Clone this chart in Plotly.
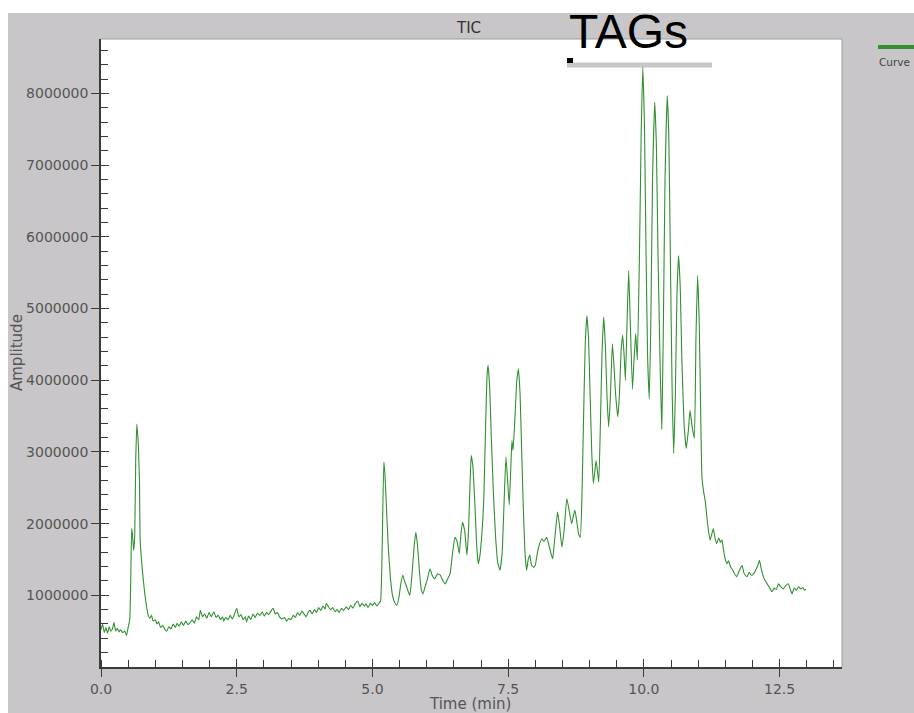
import plotly.graph_objects as go

# ---------------- data ----------------
time_min = [
    0.00, 0.03, 0.06, 0.09, 0.12, 0.15, 0.18, 0.21, 0.24, 0.27, 0.30, 0.33, 0.36, 0.40, 0.44, 0.47,
    0.50, 0.53, 0.55, 0.565, 0.58, 0.60, 0.62, 0.64, 0.66, 0.68, 0.69, 0.71, 0.72, 0.75, 0.78, 0.81,
    0.84, 0.87, 0.90, 0.93, 0.96, 1.00, 1.03, 1.06, 1.10, 1.14, 1.18, 1.21, 1.25, 1.29, 1.33, 1.37,
    1.40, 1.44, 1.48, 1.52, 1.56, 1.60, 1.64, 1.68, 1.72, 1.76, 1.80, 1.83, 1.87, 1.91, 1.95, 1.99,
    2.03, 2.08, 2.12, 2.16, 2.20, 2.24, 2.26, 2.30, 2.34, 2.38, 2.42, 2.46, 2.50, 2.54, 2.58, 2.62,
    2.66, 2.68, 2.72, 2.76, 2.80, 2.84, 2.88, 2.93, 2.97, 3.01, 3.05, 3.09, 3.13, 3.17, 3.21, 3.25,
    3.29, 3.33, 3.38, 3.42, 3.46, 3.50, 3.54, 3.58, 3.62, 3.66, 3.70, 3.74, 3.78, 3.82, 3.85, 3.89,
    3.93, 3.97, 4.01, 4.05, 4.09, 4.13, 4.15, 4.19, 4.23, 4.27, 4.31, 4.35, 4.39, 4.43, 4.47, 4.52,
    4.56, 4.60, 4.64, 4.68, 4.73, 4.77, 4.81, 4.85, 4.88, 4.92, 4.96, 5.00, 5.04, 5.08, 5.12, 5.15,
    5.18, 5.21, 5.23, 5.26, 5.29, 5.33, 5.37, 5.41, 5.45, 5.49, 5.52, 5.56, 5.59, 5.63, 5.66, 5.69,
    5.73, 5.77, 5.80, 5.83, 5.87, 5.90, 5.93, 5.97, 6.01, 6.06, 6.10, 6.15, 6.20, 6.25, 6.30, 6.34,
    6.38, 6.43, 6.47, 6.52, 6.56, 6.60, 6.63, 6.66, 6.70, 6.74, 6.77, 6.80, 6.82, 6.85, 6.89, 6.92,
    6.95, 6.98, 7.02, 7.05, 7.08, 7.11, 7.13, 7.16, 7.19, 7.23, 7.27, 7.31, 7.35, 7.39, 7.43, 7.46,
    7.49, 7.52, 7.55, 7.57, 7.59, 7.62, 7.66, 7.69, 7.72, 7.75, 7.78, 7.81, 7.84, 7.87, 7.90, 7.93,
    7.97, 8.00, 8.04, 8.08, 8.12, 8.16, 8.21, 8.25, 8.29, 8.32, 8.36, 8.41, 8.45, 8.49, 8.53, 8.58,
    8.62, 8.67, 8.70, 8.73, 8.77, 8.80, 8.83, 8.86, 8.89, 8.92, 8.95, 8.98, 9.01, 9.04, 9.07, 9.10,
    9.12, 9.15, 9.17, 9.20, 9.23, 9.26, 9.29, 9.32, 9.35, 9.38, 9.42, 9.45, 9.48, 9.52, 9.55, 9.58,
    9.61, 9.64, 9.66, 9.69, 9.72, 9.75, 9.79, 9.82, 9.85, 9.88, 9.92, 9.95, 9.98, 10.01, 10.04, 10.07,
    10.10, 10.13, 10.16, 10.20, 10.23, 10.26, 10.30, 10.33, 10.36, 10.39, 10.43, 10.46, 10.49, 10.52, 10.55, 10.58,
    10.61, 10.64, 10.67, 10.70, 10.74, 10.78, 10.82, 10.85, 10.89, 10.93, 10.96, 10.99, 11.02, 11.05, 11.07, 11.10,
    11.13, 11.16, 11.19, 11.22, 11.25, 11.28, 11.31, 11.34, 11.38, 11.41, 11.44, 11.47, 11.50, 11.53, 11.56, 11.60,
    11.64, 11.67, 11.71, 11.75, 11.78, 11.81, 11.84, 11.87, 11.90, 11.94, 11.98, 12.02, 12.06, 12.10, 12.13, 12.16,
    12.20, 12.24, 12.28, 12.32, 12.36, 12.40, 12.44, 12.48, 12.52, 12.57, 12.61, 12.66, 12.70, 12.73, 12.77, 12.81,
    12.85, 12.89, 12.93, 12.96, 12.99,
]

amplitude_millions = [
    0.52, 0.60, 0.48, 0.55, 0.47, 0.56, 0.50, 0.53, 0.62, 0.50, 0.54, 0.49, 0.52, 0.48, 0.50, 0.44,
    0.55, 0.66, 1.30, 1.93, 1.85, 1.63, 1.80, 2.90, 3.39, 3.20, 3.05, 2.55, 1.80, 1.45, 1.21, 1.00,
    0.84, 0.72, 0.68, 0.72, 0.64, 0.66, 0.60, 0.63, 0.55, 0.58, 0.52, 0.50, 0.56, 0.53, 0.60, 0.55,
    0.61, 0.57, 0.63, 0.58, 0.64, 0.59, 0.62, 0.66, 0.61, 0.70, 0.66, 0.79, 0.70, 0.74, 0.68, 0.76,
    0.70, 0.77, 0.69, 0.72, 0.66, 0.70, 0.64, 0.69, 0.66, 0.72, 0.67, 0.74, 0.82, 0.70, 0.73, 0.66,
    0.70, 0.63, 0.71, 0.66, 0.74, 0.69, 0.75, 0.72, 0.77, 0.71, 0.76, 0.73, 0.78, 0.82, 0.74, 0.76,
    0.70, 0.67, 0.69, 0.64, 0.68, 0.66, 0.72, 0.69, 0.76, 0.72, 0.78, 0.74, 0.70, 0.77, 0.79, 0.74,
    0.80, 0.76, 0.83, 0.79, 0.85, 0.81, 0.89, 0.84, 0.80, 0.83, 0.77, 0.80, 0.76, 0.82, 0.79, 0.84,
    0.80, 0.86, 0.82, 0.88, 0.92, 0.84, 0.89, 0.85, 0.88, 0.83, 0.89, 0.86, 0.90, 0.85, 0.89, 0.92,
    1.70, 2.86, 2.70, 2.20, 1.70, 1.26, 1.00, 0.90, 0.86, 0.98, 1.15, 1.28, 1.20, 1.12, 1.05, 1.00,
    1.30, 1.70, 1.88, 1.70, 1.30, 1.08, 1.02, 1.12, 1.22, 1.37, 1.28, 1.23, 1.30, 1.28, 1.20, 1.16,
    1.22, 1.30, 1.55, 1.81, 1.75, 1.58, 1.85, 2.02, 1.90, 1.56, 1.90, 2.60, 2.95, 2.80, 2.23, 1.70,
    1.44, 1.55, 1.90, 2.30, 3.20, 4.05, 4.21, 3.90, 3.20, 2.40, 1.80, 1.45, 1.35, 1.60, 2.40, 2.93,
    2.60, 2.26, 2.80, 3.16, 3.02, 3.40, 4.00, 4.16, 3.80, 3.00, 2.20, 1.60, 1.35, 1.50, 1.56, 1.42,
    1.39, 1.42, 1.60, 1.72, 1.79, 1.75, 1.81, 1.70, 1.58, 1.51, 1.80, 2.16, 1.95, 1.67, 1.90, 2.35,
    2.20, 2.00, 2.10, 2.19, 2.00, 1.85, 1.81, 2.40, 3.50, 4.50, 4.90, 4.60, 3.80, 3.00, 2.56, 2.75,
    2.88, 2.70, 2.58, 3.40, 4.40, 4.88, 4.50, 3.80, 3.35, 3.70, 4.51, 4.20, 3.80, 3.49, 3.80, 4.40,
    4.63, 4.30, 4.00, 4.80, 5.53, 4.80, 3.88, 4.30, 4.65, 4.28, 5.80, 7.40, 8.37, 7.60, 5.80, 4.30,
    3.74, 4.90, 6.80, 7.88, 7.30, 5.80, 4.20, 3.32, 4.80, 6.80, 7.97, 7.40, 5.60, 3.90, 2.98, 3.80,
    5.20, 5.74, 5.30, 4.30, 3.40, 3.05, 3.30, 3.58, 3.35, 3.19, 4.60, 5.46, 4.80, 3.40, 2.65, 2.45,
    2.32, 2.10, 1.90, 1.77, 1.85, 1.93, 1.80, 1.72, 1.80, 1.74, 1.77, 1.62, 1.50, 1.44, 1.48, 1.39,
    1.35, 1.30, 1.26, 1.33, 1.38, 1.42, 1.32, 1.28, 1.26, 1.32, 1.28, 1.30, 1.35, 1.42, 1.49, 1.38,
    1.26, 1.20, 1.15, 1.10, 1.05, 1.10, 1.08, 1.16, 1.12, 1.09, 1.13, 1.16, 1.08, 1.02, 1.10, 1.07,
    1.12, 1.09, 1.11, 1.07, 1.08,
]

amplitude = [v * 1e6 for v in amplitude_millions]

x_tick_vals = [0.0, 2.5, 5.0, 7.5, 10.0, 12.5]
y_tick_vals = [1000000, 2000000, 3000000, 4000000, 5000000, 6000000, 7000000, 8000000]

chart_title = "TIC"
x_title = "Time (min)"
y_title = "Amplitude"
series_name = "Curve"
callout_text = "TAGs"

# ---------------- layout geometry ----------------
W, H = 914, 713
L, R, T, B = 101, 72, 39, 46
PW, PH = W - L - R, H - T - B


def px(x):
    return (x - L) / PW


def py(y):
    return (H - B - y) / PH


GREEN = "#329032"
AXIS = "#3a3a3a"
LABEL = "#555555"
BG = "#c8c6c9"
FONT = "DejaVu Sans"

fig = go.Figure()
fig.add_trace(go.Scatter(
    x=time_min, y=amplitude, mode="lines", name=series_name,
    line=dict(color=GREEN, width=1.1, shape="spline", smoothing=0.4), showlegend=False,
))
# invisible copy on overlay axes (to draw the inner half of the major ticks)
fig.add_trace(go.Scatter(
    x=time_min, y=amplitude, mode="lines", xaxis="x2", yaxis="y2",
    line=dict(color=GREEN, width=1), opacity=0, showlegend=False, hoverinfo="skip",
))

x_range = [0, 13.65]
y_range = [0, 8.76e6]

common_font = dict(family=FONT, size=14, color=LABEL)

fig.update_layout(
    width=W, height=H,
    margin=dict(l=L, r=R, t=T, b=B),
    paper_bgcolor=BG, plot_bgcolor="white",
    font=dict(family=FONT, color=LABEL),
    showlegend=False,
    xaxis=dict(
        range=x_range, tickvals=x_tick_vals, tickformat=".1f",
        ticks="outside", ticklen=8, tickwidth=1, tickcolor=AXIS,
        minor=dict(dtick=0.5, tick0=0, ticks="inside", ticklen=7, tickwidth=1, tickcolor=AXIS),
        showline=True, linecolor=AXIS, linewidth=1.5,
        showgrid=False, zeroline=False, tickfont=common_font,
    ),
    yaxis=dict(
        range=y_range, tickvals=y_tick_vals, tickformat="d",
        ticks="outside", ticklen=8, tickwidth=1, tickcolor=AXIS,
        minor=dict(dtick=200000, tick0=0, ticks="inside", ticklen=7, tickwidth=1, tickcolor=AXIS),
        showline=True, linecolor=AXIS, linewidth=1.5,
        showgrid=False, zeroline=False, tickfont=common_font,
    ),
    xaxis2=dict(
        overlaying="x", anchor="y2", range=x_range, tickvals=x_tick_vals,
        ticks="inside", ticklen=8, tickwidth=1, tickcolor=AXIS,
        showticklabels=False, showline=False, showgrid=False, zeroline=False, side="bottom",
    ),
    yaxis2=dict(
        overlaying="y", anchor="x2", range=y_range, tickvals=y_tick_vals,
        ticks="inside", ticklen=8, tickwidth=1, tickcolor=AXIS,
        showticklabels=False, showline=False, showgrid=False, zeroline=False, side="left",
    ),
)

shapes = [
    # white strips outside the grey panel
    dict(type="rect", xref="paper", yref="paper", x0=px(0), x1=px(W), y0=py(13), y1=py(0),
         fillcolor="white", line=dict(width=0), layer="above"),
    dict(type="rect", xref="paper", yref="paper", x0=px(0), x1=px(8), y0=py(H), y1=py(0),
         fillcolor="white", line=dict(width=0), layer="above"),
    # light frame around plot area (top / right)
    dict(type="line", xref="paper", yref="paper", x0=0, x1=1, y0=1, y1=1,
         line=dict(color="#9c9c9c", width=1), layer="above"),
    dict(type="line", xref="paper", yref="paper", x0=1, x1=1, y0=0, y1=1,
         line=dict(color="#9c9c9c", width=1), layer="above"),
    # legend sample line
    dict(type="line", xref="paper", yref="paper", x0=px(878), x1=px(920), y0=py(47), y1=py(47),
         line=dict(color=GREEN, width=4), layer="above"),
    # grey bar under the TAGs label
    dict(type="line", xref="paper", yref="paper", x0=px(567), x1=px(712), y0=py(65), y1=py(65),
         line=dict(color="rgba(175,175,175,0.7)", width=5), layer="above"),
    dict(type="rect", xref="paper", yref="paper", x0=px(567), x1=px(573), y0=py(63), y1=py(58),
         fillcolor="black", line=dict(width=0), layer="above"),
]
fig.update_layout(shapes=shapes)

annotations = [
    dict(text=chart_title, xref="paper", yref="paper", x=px(468), y=py(28),
         showarrow=False, xanchor="center", yanchor="middle",
         font=dict(family=FONT, size=15, color="#333333")),
    dict(text=callout_text, xref="paper", yref="paper", x=px(628), y=py(31),
         showarrow=False, xanchor="center", yanchor="middle",
         font=dict(family="Liberation Sans", size=48, color="black")),
    dict(text=x_title, xref="paper", yref="paper", x=px(470), y=py(704),
         showarrow=False, xanchor="center", yanchor="middle",
         font=dict(family=FONT, size=15, color=LABEL)),
    dict(text=y_title, xref="paper", yref="paper", x=px(17), y=py(353),
         showarrow=False, xanchor="center", yanchor="middle", textangle=-90,
         font=dict(family=FONT, size=15, color=LABEL)),
    dict(text=series_name, xref="paper", yref="paper", x=px(877), y=py(62),
         showarrow=False, xanchor="left", yanchor="middle",
         font=dict(family=FONT, size=10.5, color="#444444")),
]
fig.update_layout(annotations=annotations)

fig.write_html("out.html")
